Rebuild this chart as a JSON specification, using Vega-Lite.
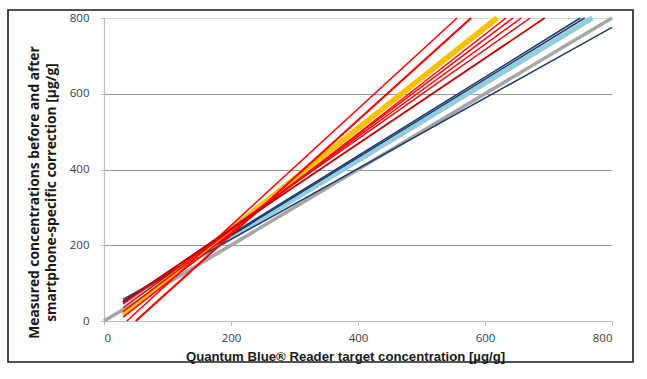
{
  "$schema": "https://vega.github.io/schema/vega-lite/v6.json",
  "width": 625,
  "height": 352,
  "autosize": {"type": "none"},
  "padding": {"left": 8, "top": 10, "right": 14, "bottom": 17},
  "background": "white",
  "config": {
    "view": {"stroke": "#1a1a1a", "strokeWidth": 1.6},
    "axis": {"labelFont": "Open Sans", "titleFont": "Open Sans"}
  },
  "data": {
    "values": [
      {"line": "G", "x": 0, "y": 0}, {"line": "G", "x": 800, "y": 800},
      {"line": "LB", "x": 30, "y": 47}, {"line": "LB", "x": 769, "y": 800},
      {"line": "N1", "x": 30, "y": 52}, {"line": "N1", "x": 750, "y": 800},
      {"line": "N2", "x": 30, "y": 50}, {"line": "N2", "x": 757, "y": 800},
      {"line": "N3", "x": 30, "y": 57}, {"line": "N3", "x": 800, "y": 775},
      {"line": "O", "x": 30, "y": 16}, {"line": "O", "x": 619, "y": 800},
      {"line": "R1", "x": 36, "y": 0}, {"line": "R1", "x": 556, "y": 800},
      {"line": "R2", "x": 50, "y": 0}, {"line": "R2", "x": 578, "y": 800},
      {"line": "R3", "x": 30, "y": 10}, {"line": "R3", "x": 633, "y": 800},
      {"line": "R4", "x": 30, "y": 25}, {"line": "R4", "x": 644, "y": 800},
      {"line": "R5", "x": 30, "y": 35}, {"line": "R5", "x": 657, "y": 800},
      {"line": "R6", "x": 30, "y": 45}, {"line": "R6", "x": 671, "y": 800},
      {"line": "R7", "x": 30, "y": 50}, {"line": "R7", "x": 694, "y": 800}
    ]
  },
  "encoding": {
    "x": {
      "field": "x", "type": "quantitative",
      "scale": {"domain": [0, 800], "range": [96, 604], "nice": false},
      "axis": {
        "orient": "bottom", "offset": -41, "values": [0, 200, 400, 600, 800],
        "grid": false, "domainColor": "#BFBFBF", "domainWidth": 1.2,
        "tickColor": "#BFBFBF", "tickSize": 4,
        "labelFontSize": 11.5, "labelColor": "#404040", "labelPadding": 7,
        "title": "Quantum Blue® Reader target concentration [µg/g]",
        "titleFont": "Liberation Sans", "titleFontSize": 13.2, "titleFontWeight": "bold", "titleColor": "#1a1a1a",
        "titleX": 337, "titleY": 35, "titleBaseline": "middle", "titleAnchor": null
      }
    },
    "y": {
      "field": "y", "type": "quantitative",
      "scale": {"domain": [0, 800], "range": [311, 8], "nice": false},
      "axis": {
        "orient": "left", "offset": -96, "values": [0, 200, 400, 600, 800],
        "grid": true,
        "gridColor": {"condition": {"test": "datum.value === 800", "value": "#D9D9D9"}, "value": "#9A9A9A"},
        "gridWidth": 1,
        "domainColor": "#BFBFBF", "domainWidth": 1.2,
        "tickColor": "#BFBFBF", "tickSize": 4,
        "labelFontSize": 11.5, "labelColor": "#404040", "labelPadding": 11,
        "title": ["Measured concentrations before and after", "smartphone-specific correction [µg/g]"],
        "titleFontSize": 13.8, "titleFontWeight": "bold", "titleColor": "#1a1a1a",
        "titleLineHeight": 17, "titleAngle": 270, "titleAlign": "center", "titleBaseline": "middle",
        "titleX": -70, "titleY": 182
      }
    },
    "detail": {"field": "line", "type": "nominal"}
  },
  "layer": [
    {"transform": [{"filter": "datum.line === 'G'"}], "mark": {"type": "line", "color": "#A6A6A6", "strokeWidth": 3.5}},
    {"transform": [{"filter": "datum.line === 'LB'"}], "mark": {"type": "line", "color": "#93CDDD", "strokeWidth": 5}},
    {"transform": [{"filter": "indexof(['N1','N2','N3'], datum.line) >= 0"}], "mark": {"type": "line", "color": "#1F3A68", "strokeWidth": 1.5}},
    {"transform": [{"filter": "datum.line === 'O'"}], "mark": {"type": "line", "color": "#FFC000", "strokeWidth": 5.5}},
    {"transform": [{"filter": "indexof(['R1','R3','R5'], datum.line) >= 0"}], "mark": {"type": "line", "color": "#FF0000", "strokeWidth": 1.5}},
    {"transform": [{"filter": "datum.line === 'R2'"}], "mark": {"type": "line", "color": "#FF0000", "strokeWidth": 2.2}},
    {"transform": [{"filter": "indexof(['R4','R6'], datum.line) >= 0"}], "mark": {"type": "line", "color": "#E0101A", "strokeWidth": 1.5}},
    {"transform": [{"filter": "datum.line === 'R7'"}], "mark": {"type": "line", "color": "#C00000", "strokeWidth": 1.8}}
  ]
}
